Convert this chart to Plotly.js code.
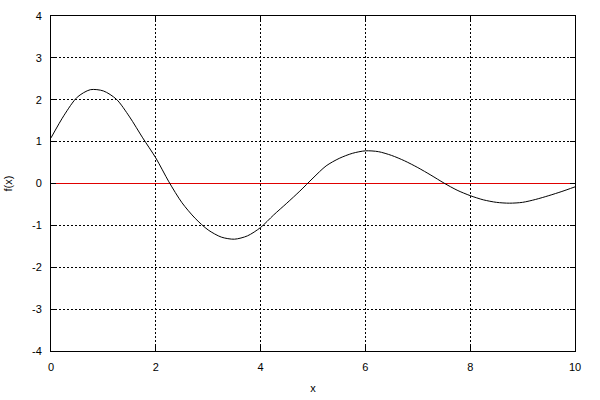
<!DOCTYPE html>
<html>
<head>
<meta charset="utf-8">
<script src="https://cdn.plot.ly/plotly-3.0.1.min.js"></script>
<style>html,body{margin:0;padding:0;background:#fff}#chart{width:600px;height:400px}</style>
</head>
<body>
<div id="chart"></div>
<script>
const xValues = [0, 0.25, 0.5, 0.75, 1, 1.25, 1.5, 1.75, 2, 2.25, 2.5, 2.75, 3, 3.25, 3.5, 3.75, 4, 4.25, 4.5, 4.75, 5, 5.25, 5.5, 5.75, 6, 6.25, 6.5, 6.75, 7, 7.25, 7.5, 7.75, 8, 8.25, 8.5, 8.75, 9, 9.25, 9.5, 9.75, 10];
const fValues = [1.09, 1.63, 2.06, 2.24, 2.21, 2.01, 1.59, 1.09, 0.61, 0.04, -0.46, -0.83, -1.11, -1.28, -1.33, -1.25, -1.05, -0.75, -0.47, -0.18, 0.13, 0.42, 0.60, 0.72, 0.78, 0.76, 0.67, 0.54, 0.38, 0.20, 0.01, -0.16, -0.29, -0.39, -0.45, -0.47, -0.45, -0.38, -0.29, -0.19, -0.08];
const xTicks = [0, 2, 4, 6, 8, 10];
const xTickLabels = ['0', '2', '4', '6', '8', '10'];
const yTicks = [-4, -3, -2, -1, 0, 1, 2, 3, 4];
const yTickLabels = ['-4', '-3', '-2', '-1', '0', '1', '2', '3', '4'];

const font = {family: 'Liberation Sans, Arial, sans-serif', size: 11, color: '#000'};
const axisCommon = {
  showline: true, linecolor: '#000', linewidth: 1, mirror: 'ticks',
  ticks: 'inside', ticklen: 5, tickcolor: '#000', tickwidth: 1,
  showgrid: true, gridcolor: '#000', gridwidth: 1, griddash: '2px,2px',
  tickfont: font
};

Plotly.newPlot('chart', [{
  x: xValues, y: fValues, type: 'scatter', mode: 'lines',
  line: {color: '#000', width: 1, shape: 'spline', smoothing: 0.8}, showlegend: false
}], {
  width: 600, height: 400,
  margin: {l: 51, r: 25, t: 16, b: 49},
  paper_bgcolor: '#fff', plot_bgcolor: '#fff',
  font: font,
  xaxis: Object.assign({}, axisCommon, {
    range: [0, 10], tickvals: xTicks, ticktext: xTickLabels, zeroline: false,
    ticklabelstandoff: 6,
    title: {text: 'x', font: font, standoff: 12}
  }),
  yaxis: Object.assign({}, axisCommon, {
    range: [-4, 4], tickvals: yTicks, ticktext: yTickLabels,
    ticklabelstandoff: 6,
    zeroline: true, zerolinecolor: 'rgb(224,0,0)', zerolinewidth: 1,
    title: {text: 'f(x)', font: font, standoff: 17}
  })
}, {staticPlot: true});
</script>
</body>
</html>
